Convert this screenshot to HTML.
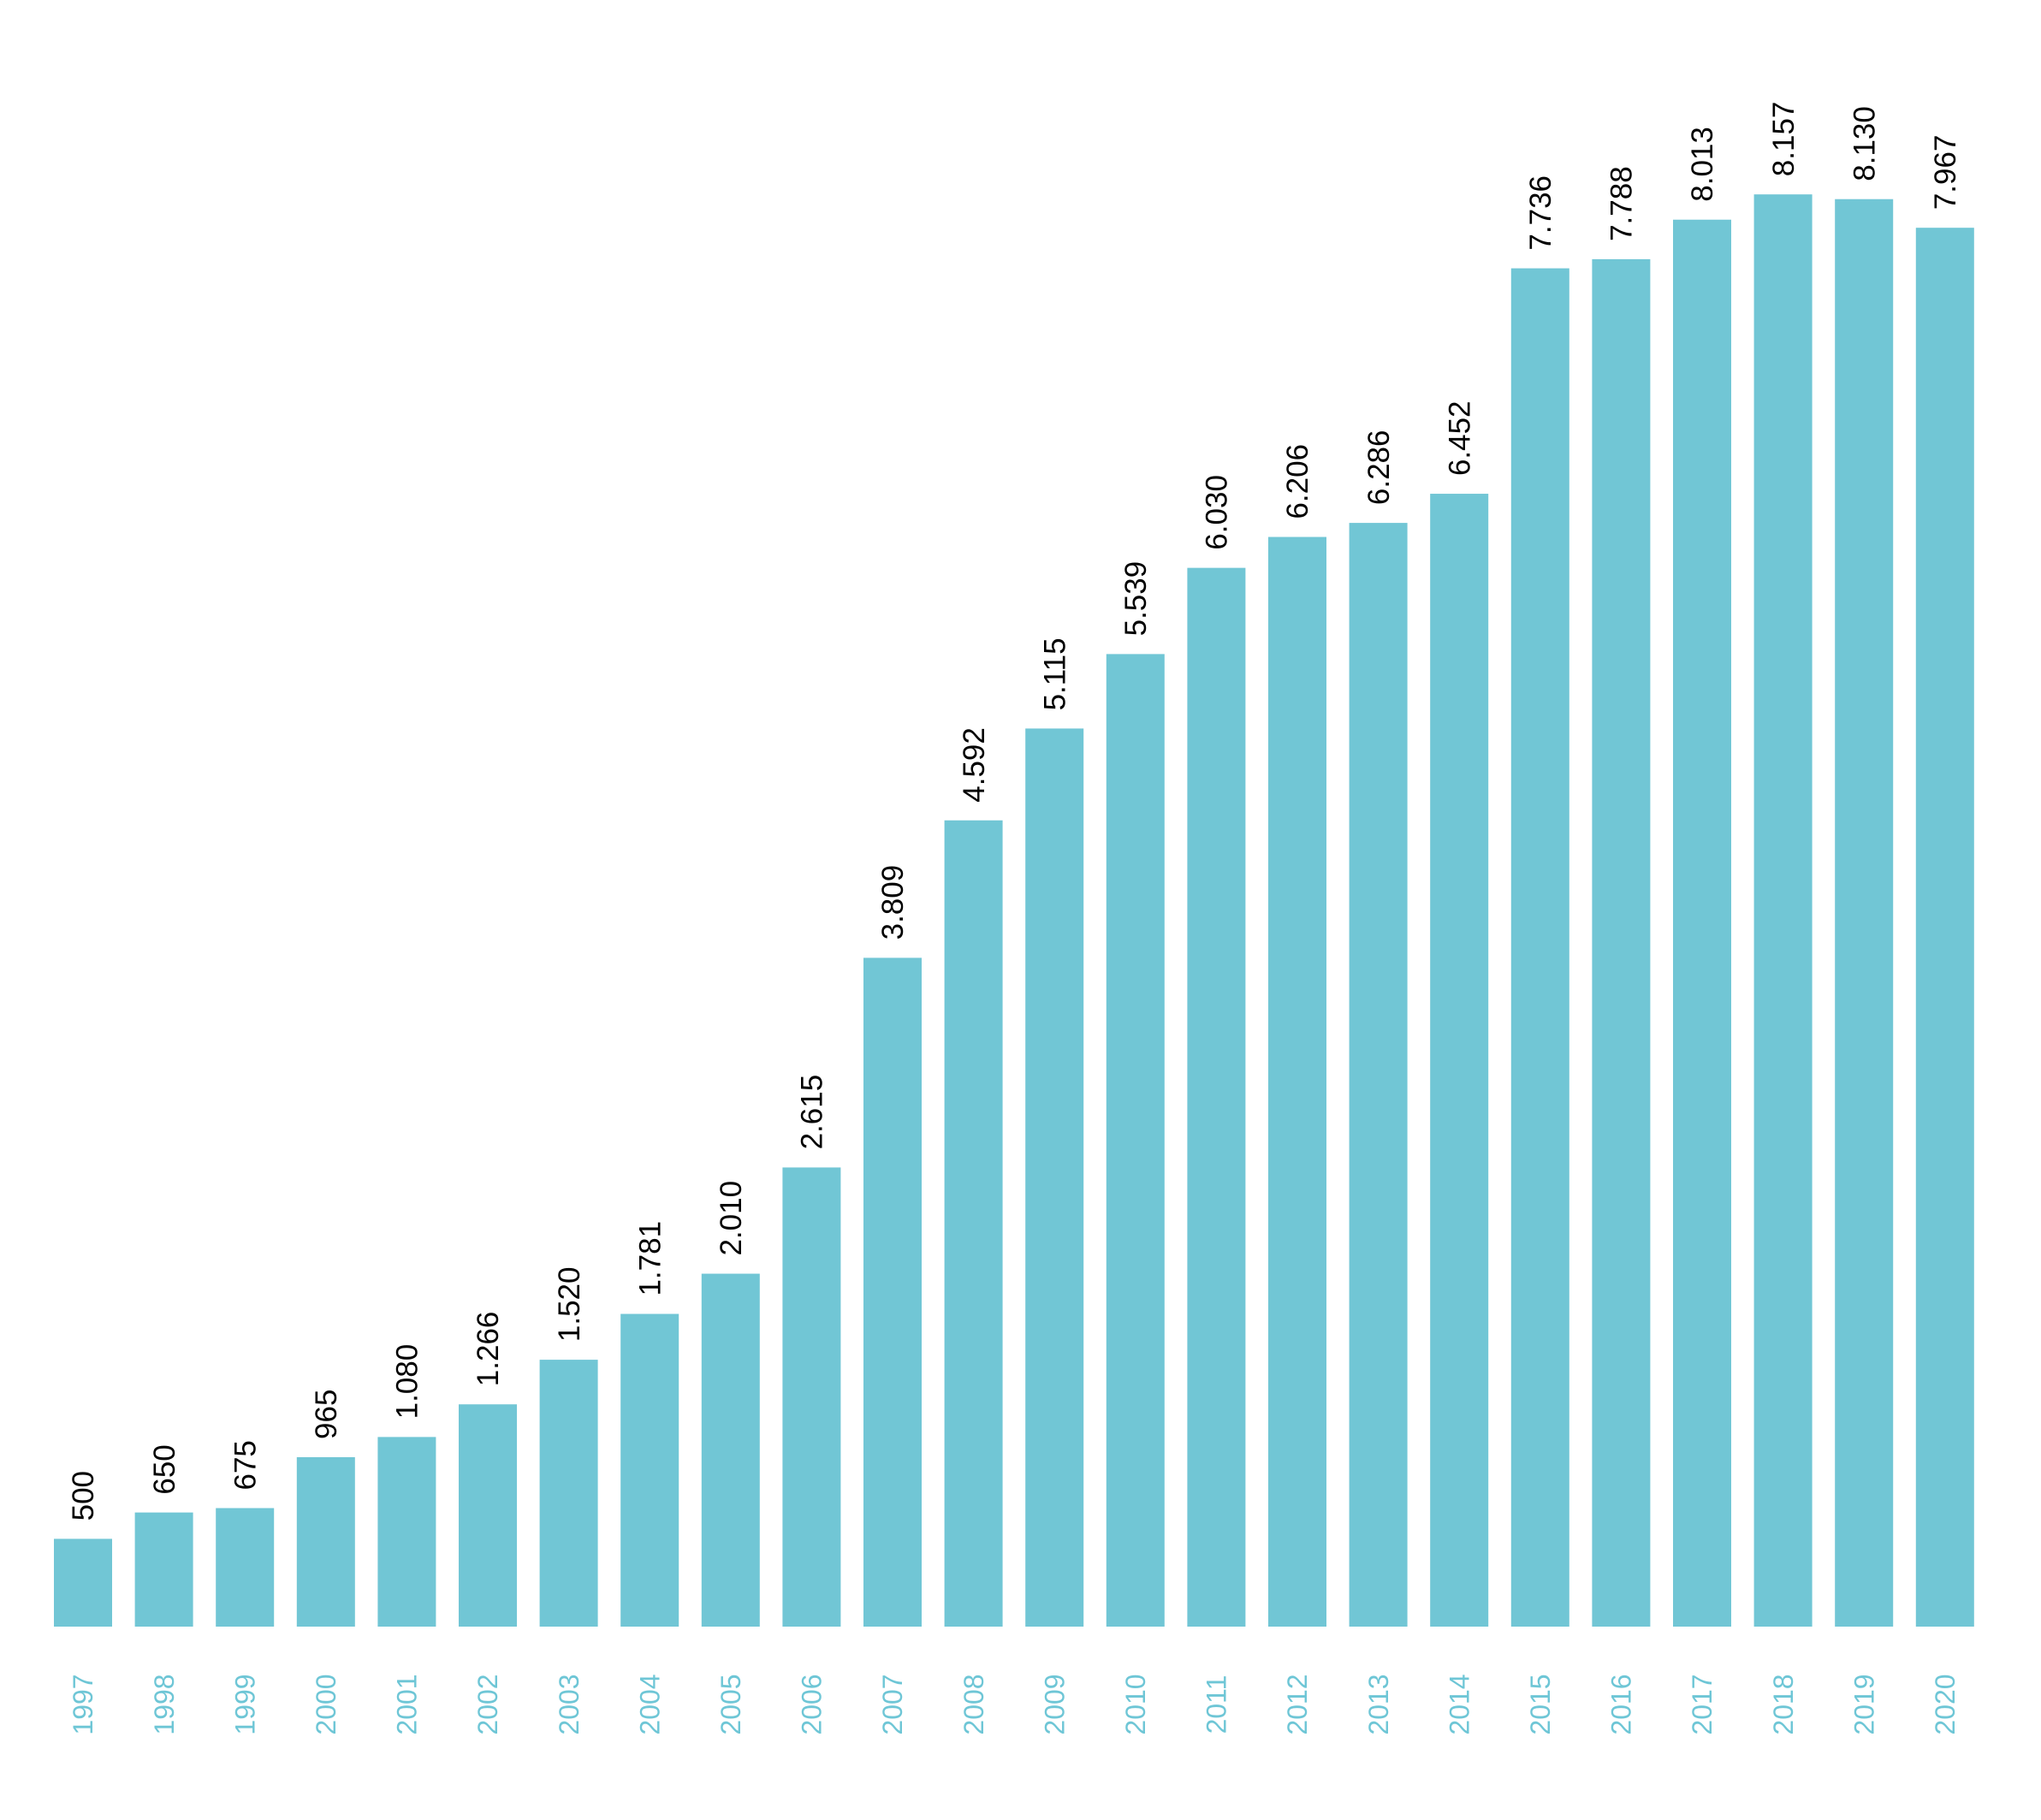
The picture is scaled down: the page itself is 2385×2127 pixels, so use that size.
<!DOCTYPE html>
<html><head><meta charset="utf-8"><style>
html,body{margin:0;padding:0;background:#fff;}
svg{display:block;font-family:"Liberation Sans",Arial,sans-serif;}
</style></head><body>
<svg id="chart" width="2385" height="2127" viewBox="0 0 2385 2127" xmlns="http://www.w3.org/2000/svg">
<g id="bars"></g>
<g id="values"></g>
<g id="xlabels"></g>
</svg>
<script>
const categories = ["1997","1998","1999","2000","2001","2002","2003","2004","2005","2006","2007","2008","2009","2010","2011","2012","2013","2014","2015","2016","2017","2018","2019","2020"];
const values = [500,650,675,965,1080,1266,1520,1781,2010,2615,3809,4592,5115,5539,6030,6206,6286,6452,7736,7788,8013,8157,8130,7967];
const valueLabels = ["500","650","675","965","1.080","1.266","1.520","1.781","2.010","2.615","3.809","4.592","5.115","5.539","6.030","6.206","6.286","6.452","7.736","7.788","8.013","8.157","8.130","7.967"];

const NS = "http://www.w3.org/2000/svg";
const baseY = 1901, pxPerUnit = 0.2052;
const firstX = 63, pitch = 94.6, barW = 68;
function xPos(i){ return firstX + i * pitch; }
function yPos(v){ return baseY - v * pxPerUnit; }

const gb = document.getElementById('bars');
const gv = document.getElementById('values');
const gx = document.getElementById('xlabels');
categories.forEach((c, i) => {
  const x = xPos(i), y = yPos(values[i]);
  const r = document.createElementNS(NS, 'rect');
  r.setAttribute('x', x); r.setAttribute('y', y);
  r.setAttribute('width', barW); r.setAttribute('height', baseY - y);
  r.setAttribute('fill', '#71c6d5');
  
  
  gb.appendChild(r);

  const cx = x + barW / 2;
  const t = document.createElementNS(NS, 'text');
  const ty = y - 21;
  t.setAttribute('x', cx); t.setAttribute('y', ty);
  t.setAttribute('transform', 'rotate(-90 ' + cx + ' ' + ty + ')');
  t.setAttribute('dy', '0.35em');
  t.setAttribute('font-size', '35');
  t.setAttribute('fill', '#000');
  t.textContent = valueLabels[i];
  
  
  gv.appendChild(t);

  const l = document.createElementNS(NS, 'text');
  const ly = 1992;
  l.setAttribute('x', cx); l.setAttribute('y', ly);
  l.setAttribute('transform', 'rotate(-90 ' + cx + ' ' + ly + ')');
  l.setAttribute('dy', '0.35em');
  l.setAttribute('text-anchor', 'middle');
  l.setAttribute('font-size', '32');
  l.setAttribute('fill', '#6ec6d6');
  l.textContent = c;
  
  
  gx.appendChild(l);
});
</script>
</body></html>
